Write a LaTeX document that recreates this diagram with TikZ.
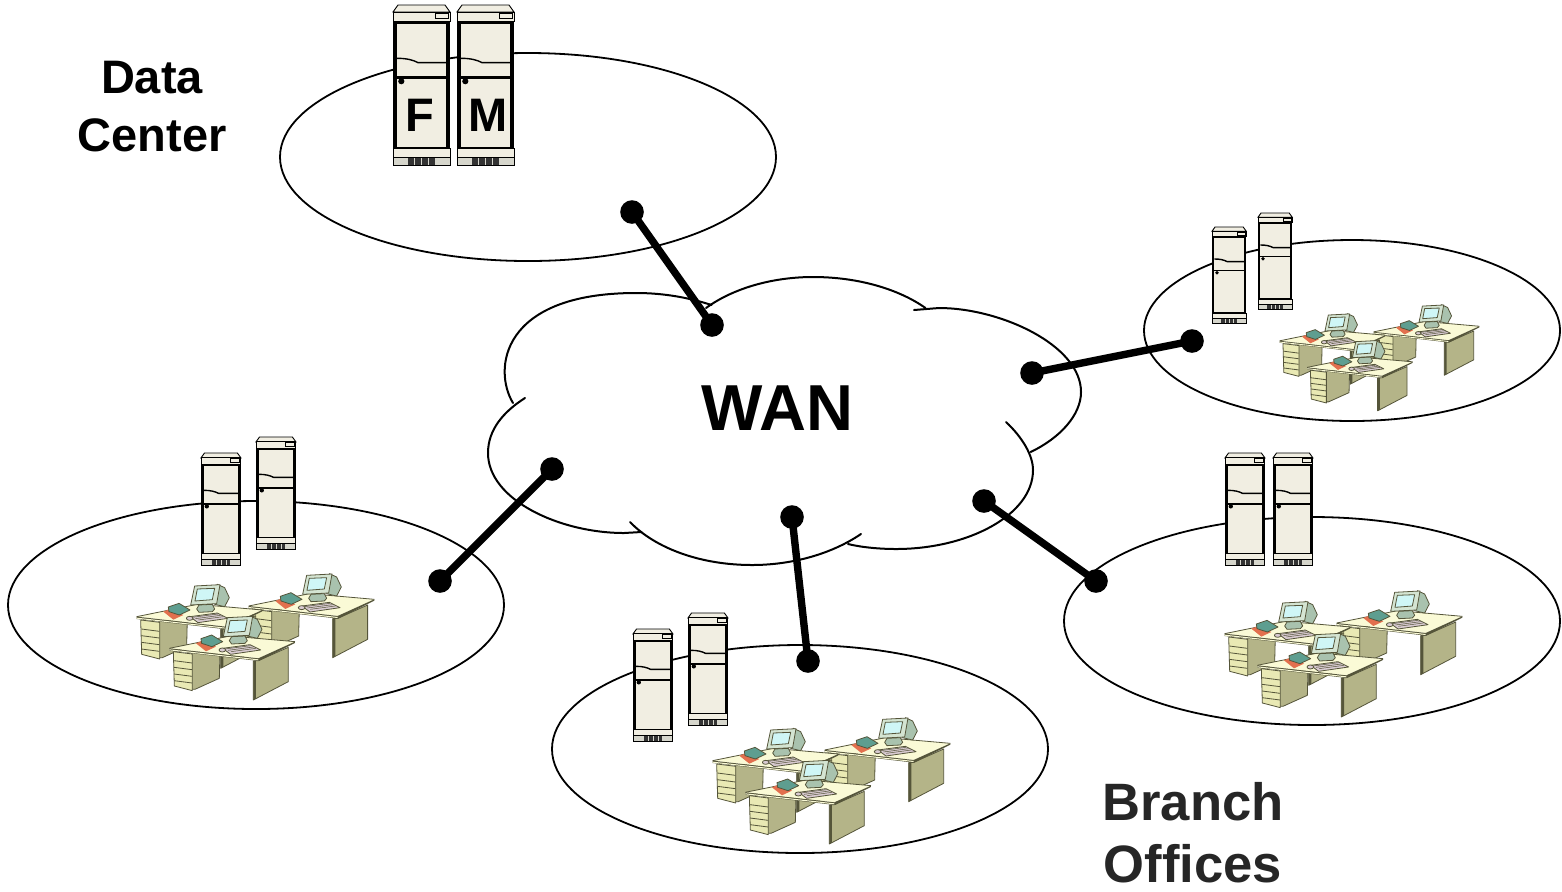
\documentclass[tikz,border=0pt]{standalone}
\usepackage{fontspec}
\setmainfont{Liberation Sans}
\usetikzlibrary{shapes.geometric}
\definecolor{cream}{HTML}{F1EEE2}
\definecolor{basegrey}{HTML}{D6D6CC}
\definecolor{deskpale}{HTML}{FAFAD6}
\definecolor{drawerc}{HTML}{E9E9B4}
\definecolor{olive}{HTML}{B4B488}
\definecolor{oliveD}{HTML}{55553A}
\definecolor{monf}{HTML}{D4E4D2}
\definecolor{monb}{HTML}{A9C2AE}
\definecolor{scr}{HTML}{CFF6F6}
\definecolor{keyb}{HTML}{D9CBD2}
\definecolor{bookc}{HTML}{5E9E90}
\definecolor{padc}{HTML}{E2704E}
\newcommand{\deskunit}{%
    \fill[olive,deskline] (370,693) -- (385,692) -- (475,652) -- (475,755) -- (370,810) -- cycle;
    \fill[oliveD] (370,693) -- (378,693) -- (378,806) -- (370,810) -- cycle;
    \fill[olive,deskline] (185,668) -- (270,660) -- (268,745) -- (195,778) -- (185,778) -- cycle;
    \fill[drawerc,deskline] (130,665) -- (187,672) -- (187,782) -- (133,768) -- cycle;
    \foreach \q in {0,1,2,3}{\draw[deskline] (132,{692+\q*20}) -- (186,{699+\q*20});}
    \fill[deskpale] (118,655) -- (300,618) -- (495,635) -- (385,685) -- cycle;
    \draw[deskline] (118,655) -- (300,618) -- (495,635);
    \fill[oliveD] (118,655) -- (385,685) -- (495,635) -- (495,639) -- (387,693) -- (118,662) -- cycle;
    \fill[deskpale] (118,658) -- (385,688) -- (385,691) -- (118,661) -- cycle;
    \fill[monb,deskline] (360,558) -- (382,568) -- (396,598) -- (382,625) -- (352,618) -- cycle;
    \fill[monf,deskline] (292,563) -- (368,559) -- (358,616) -- (280,620) -- cycle;
    \fill[scr,deskline] (300,572) -- (352,570) -- (345,604) -- (293,608) -- cycle;
    \fill[monb,deskline] (305,620) -- (345,618) -- (352,632) -- (345,640) -- (305,642) -- (298,632) -- cycle;
    \fill[padc] (198,640) -- (218,632) -- (258,650) -- (228,664) -- cycle;
    \fill[bookc,deskline] (213,626) -- (245,615) -- (278,635) -- (246,650) -- (215,640) -- cycle;
    \fill[keyb,deskline] (278,655) -- (360,644) -- (392,660) -- (302,673) -- cycle;
    \foreach \q in {0,1,2}{\draw[oliveD,line width=.25pt] ({285+\q*9},{657+\q*4}) -- ({362+\q*8},{647+\q*4});}
    \fill[keyb,deskline] (277,660) ellipse (10 and 6);
}
\newcommand{\deskgroup}[3]{%
  \begin{scope}[shift={(#1,#2)},scale=#3]
    \begin{scope}[shift={(238,-127)}]\deskunit\end{scope}
    \begin{scope}[shift={(-98,-95)}]\deskunit\end{scope}
    \deskunit
  \end{scope}
}
\tikzset{
  lobe/.style={draw=black,line width=1pt,line cap=round},
  zone/.style={draw=black,line width=.9pt,fill=white},
  link/.style={draw=black,line width=3.7pt},
  dot/.style={circle,fill=black,inner sep=0pt,minimum size=11.8pt},
  bigtext/.style={font=\bfseries,anchor=base,inner sep=0pt,align=center},
  srvline/.style={draw=black,line width=.45pt},
  deskline/.style={draw=oliveD,line width=.4pt,line join=round},
  srv/.pic={
    \fill[cream,srvline] (0,7) -- (5,0) -- (52,0) -- (57,7) -- cycle;
    \fill[cream,srvline] (0,7) rectangle (57,16);
    \draw[srvline,fill=cream] (42.7,8.3) rectangle (55,13.3);
    \fill[black] (0,16) rectangle (57,143.5);
    \fill[cream] (3.9,18.8) rectangle (53.1,142.3);
    \draw[black,line width=.7pt] (3.9,53.3) .. controls (14,53.3) and (20,55) .. (25,57.6) -- (53.1,57.6);
    \fill[black] (3.9,71) rectangle (53.1,73.6);
    \fill[black] (8.3,76.2) circle (3.1);
    \fill[cream,srvline] (0,143.5) rectangle (57,152);
    \fill[basegrey,srvline] (0,152) rectangle (57,160);
    \fill[black!80] (15,152.5) rectangle (42,159.5);
    \foreach \q in {21.5,28.5,35.5}{\fill[basegrey] (\q-.5,152.5) rectangle (\q+.5,159.5);}
  }
}
\begin{document}
\begin{tikzpicture}[x=.5pt,y=-.5pt]
\useasboundingbox (0,0) rectangle (1562,891);
\fill[white] (0,0) rectangle (1562,891);

% zones
\node[zone,ellipse,minimum width=248pt,minimum height=104pt,inner sep=0pt] (dc) at (528,157) {};
\node[zone,ellipse,minimum width=208pt,minimum height=90.5pt,inner sep=0pt] (b1) at (1352,330.5) {};
\node[zone,ellipse,minimum width=248pt,minimum height=104pt,inner sep=0pt] (b2) at (256,605) {};
\node[zone,ellipse,minimum width=248pt,minimum height=104pt,inner sep=0pt] (b3) at (800,749) {};
\node[zone,ellipse,minimum width=248pt,minimum height=104pt,inner sep=0pt] (b4) at (1312,621) {};

% servers
\pic[shift={(393,5)}] {srv};
\pic[shift={(457,5)}] {srv};
\node[font=\bfseries\fontsize{23.5}{23.5}\selectfont,anchor=base,inner sep=0pt] (lf) at (420,131) {F};
\node[font=\bfseries\fontsize{23.5}{23.5}\selectfont,anchor=base,inner sep=0pt] (lm) at (488,131) {M};

\pic[shift={(1212,227)},scale=.6] {srv};
\pic[shift={(1258,213)},scale=.6] {srv};
\pic[shift={(201,453)},scale=.7] {srv};
\pic[shift={(256,437)},scale=.7] {srv};
\pic[shift={(633,629)},scale=.7] {srv};
\pic[shift={(688,613)},scale=.7] {srv};
\pic[shift={(1225,453)},scale=.7] {srv};
\pic[shift={(1273,453)},scale=.7] {srv};

% desks
\deskgroup{130}{430}{.3333}
\deskgroup{706}{574}{.3333}
\deskgroup{1218}{447}{.3333}
\deskgroup{1274}{184}{.28}

% cloud
\draw[lobe] (513,403) .. controls (493,370) and (500,293) .. (636,293) .. controls (665,293) and (690,298) .. (711.5,305);
\draw[lobe] (706,308) .. controls (735,287) and (775,277) .. (813,277) .. controls (860,277) and (900,290) .. (925.5,308);
\draw[lobe] (914,310) -- (939,308) .. controls (1000,308) and (1081,345) .. (1081,392) .. controls (1081,415) and (1060,438) .. (1030.6,452);
\draw[lobe] (1006,422) .. controls (1022,437) and (1033,455) .. (1033,470) .. controls (1033,515) and (968,549) .. (896,549) .. controls (878,549) and (860,547) .. (848,544);
\draw[lobe] (861,534) .. controls (830,555) and (790,565) .. (752,565) .. controls (700,565) and (655,548) .. (630,522);
\draw[lobe] (641.5,532) -- (624,533) .. controls (560,533) and (488,500) .. (488,453) .. controls (488,430) and (503,412) .. (525,398);

% connectors
\node[dot] (c1a) at (632,212) {};
\node[dot] (c1b) at (712,325) {};
\node[dot] (c2a) at (1032,373) {};
\node[dot] (c2b) at (1192,341) {};
\node[dot] (c3a) at (552,469) {};
\node[dot] (c3b) at (440,581) {};
\node[dot] (c4a) at (792,517) {};
\node[dot] (c4b) at (808,661) {};
\node[dot] (c5a) at (984,501) {};
\node[dot] (c5b) at (1096,581) {};
\draw[link] (c1a.center) -- (c1b.center);
\draw[link] (c2a.center) -- (c2b.center);
\draw[link] (c3a.center) -- (c3b.center);
\draw[link] (c4a.center) -- (c4b.center);
\draw[link] (c5a.center) -- (c5b.center);

% labels
\node[bigtext,font=\bfseries\fontsize{23.5}{23.5}\selectfont] (t1) at (152,93) {Data};
\node[bigtext,font=\bfseries\fontsize{23.5}{23.5}\selectfont] (t2) at (152,151) {Center};
\node[bigtext,font=\bfseries\fontsize{32.5}{32.5}\selectfont] (t3) at (777.5,430) {WAN};
\node[bigtext,font=\bfseries\fontsize{26.3}{26.3}\selectfont,text=black!85] (t4) at (1193,820) {Branch};
\node[bigtext,font=\bfseries\fontsize{26.3}{26.3}\selectfont,text=black!85] (t5) at (1193,882) {Offices};
\end{tikzpicture}
\end{document}
